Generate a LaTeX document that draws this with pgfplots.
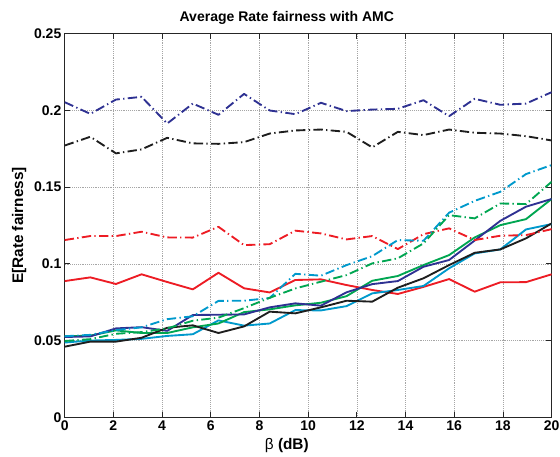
\documentclass[border=0pt]{standalone}
\usepackage{fontspec}
\setmainfont{Liberation Sans}
\usepackage{pgfplots}
\usepackage{pgfplotstable}
\pgfplotsset{compat=1.18}
\definecolor{mblue}{RGB}{46,49,146}
\definecolor{mred}{RGB}{237,28,36}
\definecolor{mcyan}{RGB}{0,153,204}
\definecolor{mgreen}{RGB}{0,166,81}
\definecolor{mblack}{RGB}{30,30,30}
\pgfplotstableread{
x bdd kdd rdd cdd gdd rs bs gs cs ks
0 0.2052 0.1770 0.1155 0.0529 0.0498 0.0888 0.0524 0.0528 0.0488 0.0461
1.0526 0.1976 0.1827 0.1181 0.0538 0.0510 0.0912 0.0528 0.0533 0.0501 0.0494
2.1053 0.2069 0.1719 0.1181 0.0569 0.0545 0.0869 0.0580 0.0567 0.0505 0.0494
3.1579 0.2087 0.1745 0.1209 0.0587 0.0556 0.0932 0.0588 0.0550 0.0512 0.0519
4.2105 0.1913 0.1820 0.1172 0.0640 0.0580 0.0882 0.0564 0.0550 0.0531 0.0584
5.2632 0.2043 0.1784 0.1171 0.0659 0.0630 0.0834 0.0667 0.0587 0.0542 0.0600
6.3158 0.1970 0.1781 0.1241 0.0759 0.0650 0.0942 0.0669 0.0612 0.0632 0.0550
7.3684 0.2106 0.1792 0.1122 0.0760 0.0712 0.0841 0.0671 0.0686 0.0598 0.0593
8.4211 0.1998 0.1848 0.1128 0.0778 0.0779 0.0814 0.0717 0.0704 0.0612 0.0689
9.4737 0.1974 0.1868 0.1216 0.0935 0.0840 0.0895 0.0743 0.0730 0.0699 0.0678
10.5263 0.2048 0.1874 0.1198 0.0923 0.0884 0.0899 0.0728 0.0747 0.0697 0.0717
11.5789 0.1994 0.1859 0.1159 0.0992 0.0927 0.0862 0.0815 0.0790 0.0725 0.0760
12.6316 0.2004 0.1758 0.1181 0.1050 0.1003 0.0830 0.0868 0.0890 0.0808 0.0754
13.6842 0.2009 0.1859 0.1096 0.1155 0.1036 0.0804 0.0888 0.0921 0.0830 0.0845
14.7368 0.2065 0.1838 0.1193 0.1150 0.1133 0.0850 0.0981 0.0992 0.0856 0.0906
15.7895 0.1961 0.1874 0.1231 0.1333 0.1317 0.0901 0.1025 0.1057 0.0971 0.0992
16.8421 0.2074 0.1853 0.1155 0.1410 0.1296 0.0819 0.1152 0.1172 0.1068 0.1072
17.8947 0.2035 0.1848 0.1183 0.1469 0.1393 0.0880 0.1280 0.1252 0.1094 0.1094
18.9474 0.2043 0.1831 0.1187 0.1584 0.1389 0.0881 0.1372 0.1291 0.1224 0.1166
20 0.2117 0.1803 0.1226 0.1643 0.1534 0.0932 0.1422 0.1422 0.1259 0.1263
}\datatable
\begin{document}
\begin{tikzpicture}
\begin{axis}[
  name=ax,
  at={(0,0)}, anchor=south west,
  width=365pt, height=288pt, scale only axis,
  xmin=0, xmax=20, ymin=0, ymax=0.25,
  xtick={0,2,...,20},
  ytick={0,0.05,0.1,0.15,0.2,0.25},
  yticklabels={0,0.05,0.1,0.15,0.2,0.25},
  tick align=inside, tick pos=both,
  major tick length=4pt,
  grid=major,
  major grid style={densely dotted, gray!70, line width=0.5pt},
  axis line style={line width=0.9pt, black!85},
  every tick/.style={black!85, line width=0.6pt},
  /pgf/number format/assume math mode=true,
  ticklabel style={font=\fontsize{10.5}{12}\selectfont\bfseries},
  xticklabel style={yshift=1pt},
  yticklabel style={xshift=1pt},
  title={Average Rate fairness with AMC},
  title style={font=\fontsize{10.5}{12}\selectfont\bfseries, yshift=-3pt, xshift=-16pt},
  xlabel={{\mdseries β} (dB)},
  ylabel={E[Rate fairness]},
  label style={font=\fontsize{11.5}{13}\selectfont\bfseries},
  xlabel style={yshift=1.5pt, xshift=-16pt},
  ylabel style={yshift=-1pt},
  every axis plot/.append style={line width=1.4pt, line join=round},
  ddash/.style={dash pattern=on 7pt off 2.5pt on 1pt off 2.5pt},
]
\addplot[mred] table[x=x,y=rs]{\datatable};
\addplot[mcyan] table[x=x,y=cs]{\datatable};
\addplot[mgreen] table[x=x,y=gs]{\datatable};
\addplot[mblue] table[x=x,y=bs]{\datatable};
\addplot[mblack] table[x=x,y=ks]{\datatable};
\addplot[mblue, ddash] table[x=x,y=bdd]{\datatable};
\addplot[mblack, ddash] table[x=x,y=kdd]{\datatable};
\addplot[mred, ddash] table[x=x,y=rdd]{\datatable};
\addplot[mcyan, ddash] table[x=x,y=cdd]{\datatable};
\addplot[mgreen, ddash] table[x=x,y=gdd]{\datatable};
\end{axis}
\pgfresetboundingbox
\path[use as bounding box] (-48.5pt,-29pt) rectangle (371.3pt,313pt);
\end{tikzpicture}
\end{document}
